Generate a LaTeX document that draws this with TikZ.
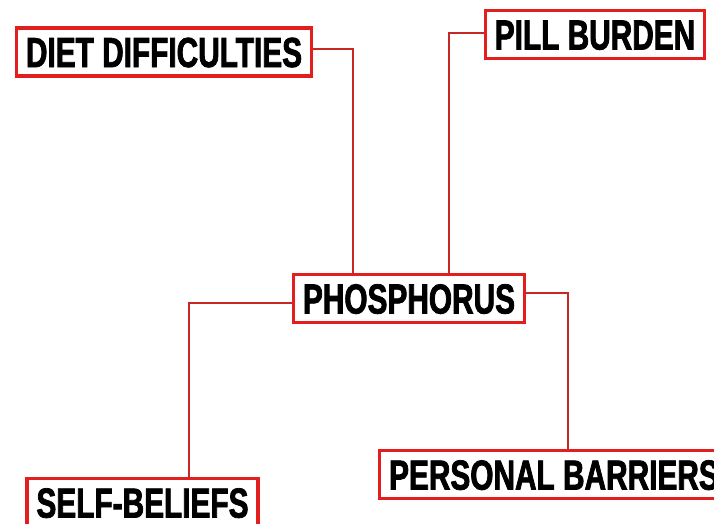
\documentclass[tikz,border=0pt]{standalone}
\usepackage{fontspec}
\setmainfont[FakeStretch=0.71,FakeBold=1.8]{Liberation Sans Bold}
\usepackage{tikz}
\definecolor{boxred}{RGB}{226,30,30}
\definecolor{linered}{RGB}{200,40,36}
\tikzset{
  topic/.style={draw=boxred,line width=3.2pt,fill=white,font=\fontsize{42}{42}\selectfont,
    text height=30pt,text depth=0pt,inner xsep=9.5pt,inner ysep=9pt},
  link/.style={draw=linered,line width=1.6pt}
}

\begin{document}
\begin{tikzpicture}[x=1pt,y=-1pt]
\useasboundingbox[clip] (0,0) rectangle (714,523);
\fill[white] (0,0) rectangle (714,523);
\node[topic] (phos) at (409,298.5) {PHOSPHORUS};
\node[topic] (diet) at (164,52) {DIET DIFFICULTIES};
\node[topic] (pill) at (595,34.5) {PILL BURDEN};
\node[topic,anchor=north west] (pers) at (378,449) {PERSONAL BARRIERS};
\node[topic,anchor=north] (self) at (142.5,477) {SELF-BELIEFS};
\draw[link] ([yshift=3pt]diet.east) -| ([xshift=-56pt]phos.north);
\draw[link] ([yshift=1.5pt]pill.west) -| ([xshift=40pt]phos.north);
\draw[link] ([yshift=-4.5pt]phos.west) -| (self.north -| 189,0);
\draw[link] ([yshift=5.5pt]phos.east) -| (pers.north -| 568,0);
\end{tikzpicture}
\end{document}
